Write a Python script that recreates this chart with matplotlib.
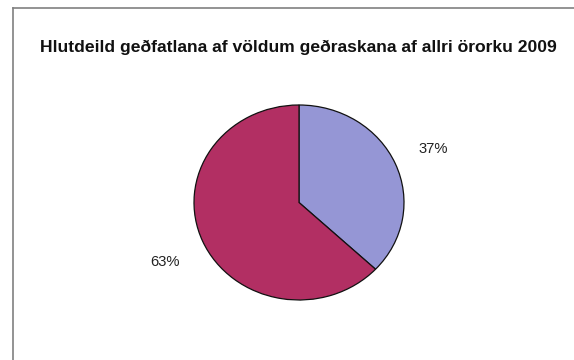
import matplotlib.pyplot as plt
from matplotlib.lines import Line2D

title = "Hlutdeild geðfatlana af völdum geðraskana af allri örorku 2009"
shares = [37, 63]
colors = ["#9596D5", "#B22F63"]

plt.rcParams['font.family'] = ['Liberation Sans', 'DejaVu Sans']

fig = plt.figure(figsize=(5.74, 3.60), dpi=100)

# grey frame lines along the top and left edge
fig.add_artist(Line2D([13 / 574, 1], [1 - 8 / 360] * 2, color="#808080", lw=1.2))
fig.add_artist(Line2D([13 / 574] * 2, [0, 1 - 8 / 360], color="#808080", lw=1.2))

fig.text(298 / 574, 1 - 47 / 360, title, ha="center", va="center",
         fontsize=12.6, fontweight="bold", color="#111111")

ax = fig.add_axes([194 / 574, 60 / 360, 210 / 574, 195 / 360])
wedges, texts, pcts = ax.pie(
    shares, colors=colors, startangle=90, counterclock=False,
    autopct="%d%%", pctdistance=1.39,
    wedgeprops=dict(edgecolor="#111111", linewidth=0.9),
    textprops=dict(fontsize=10.6, color="#222222"))
# the lower label sits a little further out
x, y = pcts[1].get_position()
pcts[1].set_position((x, y - 0.06))
ax.set_aspect("auto")
ax.set_xlim(-1, 1)
ax.set_ylim(-1, 1)

fig.savefig("out.png", dpi=100)
